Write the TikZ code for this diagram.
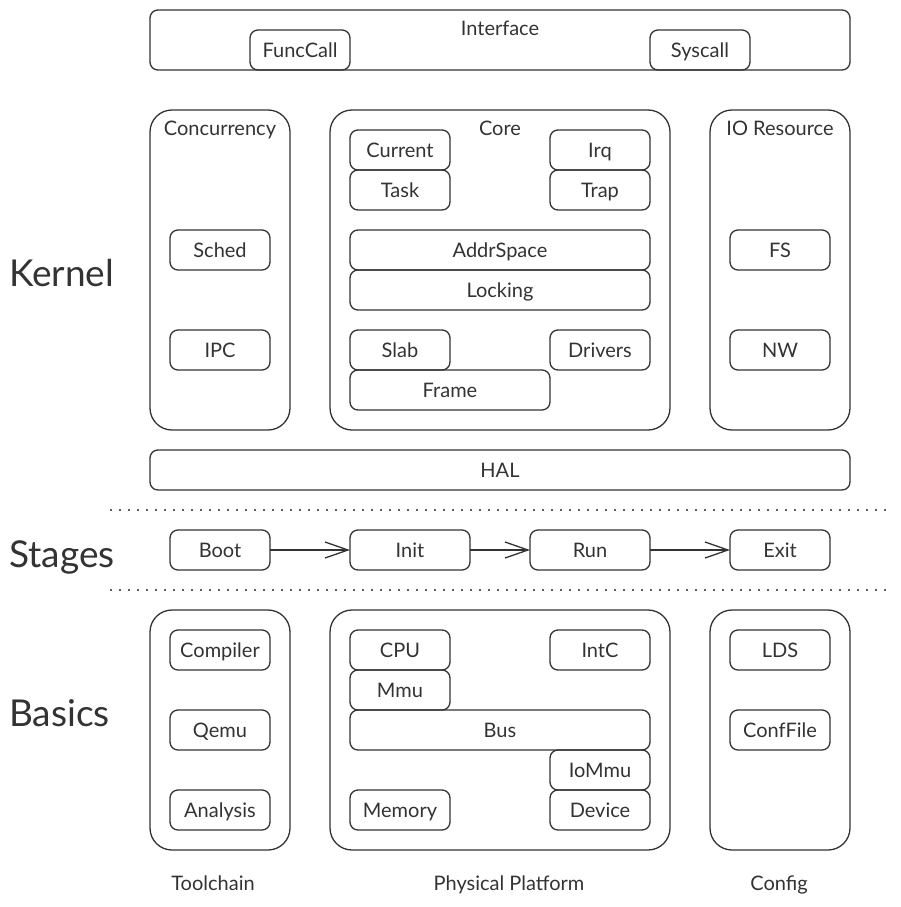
\documentclass[tikz,border=0pt]{standalone}
\usepackage{xcolor}
\usepackage{fontspec}
\setmainfont{Lato}
\usepackage{tikz}
\usetikzlibrary{positioning, arrows.meta}
\definecolor{ink}{HTML}{333333}
\tikzstyle{block} = [rectangle, rounded corners=8pt, minimum width=100pt, minimum height=40pt, text centered, draw=ink, text=ink, line width=1.3pt, inner sep=0pt, outer sep=0pt, text height=14.4pt, text depth=0pt]
\tikzstyle{group} = [rectangle, rounded corners=22pt, minimum width=140pt, minimum height=320pt, draw=ink, line width=1.3pt, outer sep=0pt]
\tikzstyle{title} = [text=ink, inner sep=0pt, text height=14.4pt, text depth=0pt]
\tikzstyle{layer} = [text=ink, font=\fontsize{37}{40}\selectfont, inner sep=0pt, anchor=base west]
\tikzstyle{divider} = [draw=ink!80, line width=1.5pt, dash pattern=on 1.5pt off 7.5pt]
\tikzstyle{arrow} = [line width=1.3pt, draw=ink, -{Straight Barb[length=23pt, width=16pt, line width=1.3pt]}]

\begin{document}
\begin{tikzpicture}[x=1pt, y=-1pt, font=\fontsize{20}{24}\selectfont]
	\useasboundingbox (0,0) rectangle (900,907);

	% Kernel
	\node (kernel) [layer] at (9,286) {Kernel};
	\node (iface) [block, minimum width=700pt, minimum height=60pt] at (500,40) {};
	\node (ifacetitle) [title] at ([yshift=-18pt]iface.north) {Interface};
	\node (funccall) [block] at (300,50) {FuncCall};
	\node (syscall) [block] at (700,50) {Syscall};

	\node (conc) [group] at (220,270) {};
	\node (conctitle) [title] at ([yshift=-18pt]conc.north) {Concurrency};
	\node (sched) [block] at (220,250) {Sched};
	\node (ipc) [block] at (220,350) {IPC};

	\node (core) [group, minimum width=340pt] at (500,270) {};
	\node (coretitle) [title] at ([yshift=-18pt]core.north) {Core};
	\node (current) [block] at (400,150) {Current};
	\node (task) [block, below=0pt of current] {Task};
	\node (irq) [block] at (600,150) {Irq};
	\node (trap) [block, below=0pt of irq] {Trap};
	\node (addrspace) [block, minimum width=300pt] at (500,250) {AddrSpace};
	\node (locking) [block, minimum width=300pt, below=0pt of addrspace] {Locking};
	\node (slab) [block] at (400,350) {Slab};
	\node (frame) [block, minimum width=200pt] at (450,390) {Frame};
	\node (drivers) [block] at (600,350) {Drivers};

	\node (io) [group] at (780,270) {};
	\node (iotitle) [title] at ([yshift=-18pt]io.north) {IO Resource};
	\node (fs) [block] at (780,250) {FS};
	\node (nw) [block] at (780,350) {NW};

	\node (hal) [block, minimum width=700pt] at (500,470) {HAL};

	% Stages
	\draw [divider] (110,510) -- (890,510);
	\node (stages) [layer] at (9,567) {Stages};
	\node (boot) [block] at (220,550) {Boot};
	\node (init) [block, minimum width=120pt] at (410,550) {Init};
	\node (run) [block, minimum width=120pt] at (590,550) {Run};
	\node (exit) [block] at (780,550) {Exit};
	\draw [divider] (110,590) -- (890,590);

	\draw [arrow] (boot) -- (init);
	\draw [arrow] (init) -- (run);
	\draw [arrow] (run) -- (exit);

	% Basics
	\node (basics) [layer] at (9,726) {Basics};
	\node (tools) [group, minimum height=240pt] at (220,730) {};
	\node (compiler) [block] at (220,650) {Compiler};
	\node (qemu) [block] at (220,730) {Qemu};
	\node (analysis) [block] at (220,810) {Analysis};

	\node (platform) [group, minimum width=340pt, minimum height=240pt] at (500,730) {};
	\node (cpu) [block] at (400,650) {CPU};
	\node (mmu) [block, below=0pt of cpu] {Mmu};
	\node (intc) [block] at (600,650) {IntC};
	\node (bus) [block, minimum width=300pt] at (500,730) {Bus};
	\node (iommu) [block] at (600,770) {IoMmu};
	\node (device) [block, below=0pt of iommu] {Device};
	\node (memory) [block] at (400,810) {Memory};

	\node (config) [group, minimum height=240pt] at (780,730) {};
	\node (lds) [block] at (780,650) {LDS};
	\node (conffile) [block] at (780,730) {ConfFile};

	\node (toolstitle) [title] at (213,883) {Toolchain};
	\node (platformtitle) [title] at (509,883) {Physical Platform};
	\node (configtitle) [title] at (779,883) {Config};
\end{tikzpicture}
\end{document}
